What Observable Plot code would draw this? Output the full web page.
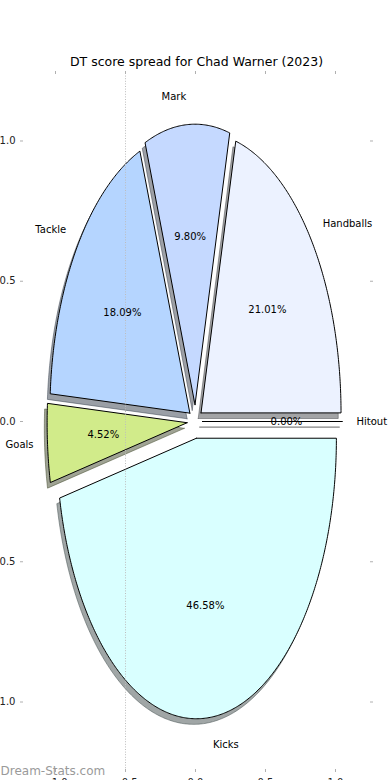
<!DOCTYPE html>
<html>
<head>
<meta charset="utf-8">
<script src="https://cdn.jsdelivr.net/npm/d3@7"></script>
<script src="https://cdn.jsdelivr.net/npm/@observablehq/plot@0.6"></script>
<style>
  html, body { margin: 0; padding: 0; background: #fff; }
  #chart { width: 390px; height: 780px; overflow: hidden; }
</style>
</head>
<body>
<div id="chart"></div>
<script>
// ---- Data ----
const categories = ["Handballs", "Mark", "Tackle", "Goals", "Kicks", "Hitout"];
const shares = [21.01, 9.80, 18.09, 4.52, 46.58, 0.00];   // percent of DT score
const explode = [0.05, 0.06, 0.05, 0.06, 0.06, 0.05];
const colors = ["#ecf2ff", "#c5d9ff", "#b5d5ff", "#d1eb8a", "#d9ffff", "#ffffff"];
const xTicks = [-1.0, -0.5, 0.0, 0.5, 1.0];
const yTicks = [-1.0, -0.5, 0.0, 0.5, 1.0];
const titleText = "DT score spread for Chad Warner (2023)";
const watermark = "Dream-Stats.com";

// ---- Build wedge geometry in data units (matplotlib-style pie, radius 1) ----
const total = d3.sum(shares);
let start = 0;
const wedges = categories.map((name, i) => {
  const t1 = start;
  const t2 = start + 360 * shares[i] / total;
  start = t2;
  const mid = (t1 + t2) / 2 * Math.PI / 180;
  const cx = explode[i] * Math.cos(mid), cy = explode[i] * Math.sin(mid);
  const pts = [{x: cx, y: cy}];
  const n = Math.max(2, Math.ceil((t2 - t1) / 0.5));
  for (let k = 0; k <= n; k++) {
    const a = (t1 + (t2 - t1) * k / n) * Math.PI / 180;
    pts.push({x: cx + Math.cos(a), y: cy + Math.sin(a)});
  }
  pts.push({x: cx, y: cy});
  const lx = cx + 1.1 * Math.cos(mid), ly = cy + 1.1 * Math.sin(mid);
  const px = cx + 0.6 * Math.cos(mid), py = cy + 0.6 * Math.sin(mid);
  const c = d3.rgb(colors[i]);
  const shadow = d3.rgb(c.r * 0.3, c.g * 0.3, c.b * 0.3).formatHex();
  return {name, pts, lx, ly, px, py, color: colors[i], shadow,
          pct: shares[i].toFixed(2) + "%"};
});

const fmt = d => (d < 0 ? "\u2212" : "") + Math.abs(d).toFixed(1);
const tickStroke = "#b0b0b0";
const labelFill = "#222";

const marks = [];
// shadows
wedges.forEach(w => {
  marks.push(Plot.line(w.pts.map(p => ({x: p.x - 0.02, y: p.y - 0.02})), {
    x: "x", y: "y", fill: w.shadow, fillOpacity: 0.5,
    stroke: w.shadow, strokeOpacity: 0.5, strokeWidth: 1, curve: "linear"
  }));
});
// wedges
wedges.forEach(w => {
  marks.push(Plot.line(w.pts, {
    x: "x", y: "y", fill: w.color, stroke: "#000", strokeWidth: 1,
    curve: "linear", strokeLinejoin: "miter"
  }));
});
// dotted vertical line at -0.5
marks.push(Plot.ruleX([-0.5], {stroke: "#bdbdbd", strokeDasharray: "1,1.6", strokeWidth: 1}));
// axes
marks.push(Plot.axisY({anchor: "left", ticks: yTicks, tickSize: 3, tickPadding: 5,
  tickFormat: fmt, stroke: tickStroke, fill: labelFill, fontSize: 10, label: null}));
marks.push(Plot.axisY({anchor: "right", ticks: yTicks, tickSize: 3,
  tickFormat: () => "", stroke: tickStroke, label: null}));
marks.push(Plot.axisX({anchor: "bottom", ticks: xTicks, tickSize: 3, tickPadding: 6,
  tickFormat: fmt, stroke: tickStroke, fill: labelFill, fontSize: 10, label: null}));
marks.push(Plot.axisX({anchor: "top", ticks: xTicks, tickSize: 3,
  tickFormat: () => "", stroke: tickStroke, label: null}));
// category labels
marks.push(Plot.text(wedges.filter(w => w.lx > 0), {
  x: "lx", y: "ly", text: "name", textAnchor: "start", fill: "#000", fontSize: 10
}));
marks.push(Plot.text(wedges.filter(w => w.lx <= 0), {
  x: "lx", y: "ly", text: "name", textAnchor: "end", fill: "#000", fontSize: 10
}));
// percentage labels
marks.push(Plot.text(wedges, {
  x: "px", y: "py", text: "pct", textAnchor: "middle", fill: "#000", fontSize: 10
}));
// title
marks.push(Plot.text([titleText], {
  frameAnchor: "top", dy: -12, text: d => d, fontSize: 12.5, fill: "#000",
  lineAnchor: "middle"
}));
// watermark
marks.push(Plot.text([watermark], {
  frameAnchor: "bottom-left", dx: -23, dy: 2, text: d => d, fontSize: 12,
  fill: "#9a9a9a", textAnchor: "start", lineAnchor: "middle"
}));

const chart = Plot.plot({
  width: 390,
  height: 780,
  marginLeft: 23,
  marginRight: 21,
  marginTop: 73,
  marginBottom: 11,
  x: {domain: [-1.2286, 1.2429]},
  y: {domain: [-1.2406, 1.2406]},
  style: {fontFamily: "DejaVu Sans, sans-serif", fontSize: "10px", background: "#fff", overflow: "visible"},
  marks
});
document.getElementById("chart").appendChild(chart);
</script>
</body>
</html>
